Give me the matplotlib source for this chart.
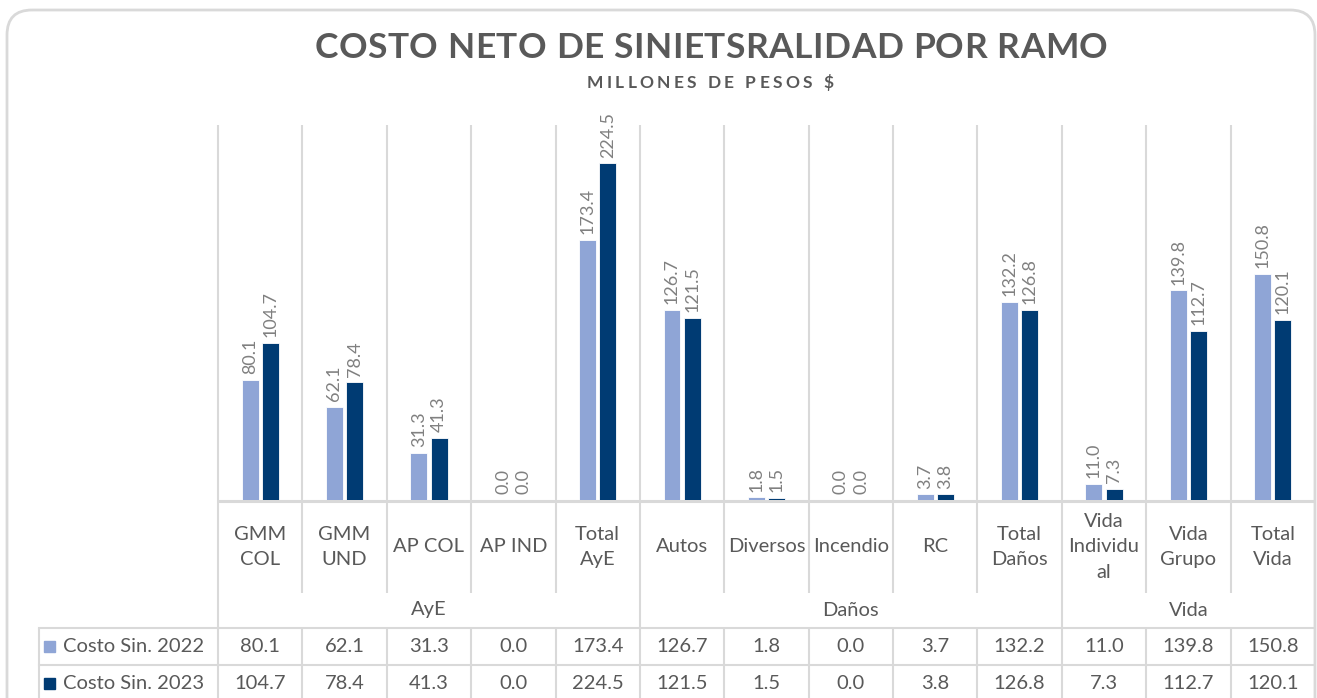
import numpy as np
import matplotlib
matplotlib.use('Agg')
import matplotlib.pyplot as plt
from matplotlib.font_manager import FontProperties
from matplotlib.patches import FancyBboxPatch, Rectangle
from matplotlib.transforms import blended_transform_factory

# ── Data ───────────────────────────────────────────────────────────────────────
CATEGORIES = ['GMM\nCOL', 'GMM\nUND', 'AP COL', 'AP IND', 'Total\nAyE',
              'Autos', 'Diversos', 'Incendio', 'RC', 'Total\nDaños',
              'Vida\nIndividu\nal', 'Vida\nGrupo', 'Total\nVida']
GROUPS      = ['AyE', 'Daños', 'Vida']
GROUP_SIZES = [5, 5, 3]
SERIES      = ['Costo Sin. 2022', 'Costo Sin. 2023']
COSTO_2022  = [80.1, 62.1, 31.3, 0.0, 173.4, 126.7, 1.8, 0.0, 3.7, 132.2, 11.0, 139.8, 150.8]
COSTO_2023  = [104.7, 78.4, 41.3, 0.0, 224.5, 121.5, 1.5, 0.0, 3.8, 126.8, 7.3, 112.7, 120.1]

TITLE    = 'COSTO NETO DE SINIETSRALIDAD POR RAMO'
SUBTITLE = 'MILLONES DE PESOS $'

# ── Style ──────────────────────────────────────────────────────────────────────
C_LIGHT = '#8FA5D6'
C_DARK  = '#003B73'
C_TEXT  = '#595959'
C_LABEL = '#808080'
C_GRID  = '#D9D9D9'
FONT    = 'Lato'
plt.rcParams['font.family'] = [FONT, 'DejaVu Sans']

W, H = 1317, 698
fig = plt.figure(figsize=(W / 100, H / 100), dpi=100)

# overlay in pixel coordinates (y down) for table, lines and titles
ov = fig.add_axes([0, 0, 1, 1], zorder=0)
ov.set_xlim(0, W)
ov.set_ylim(H, 0)
ov.axis('off')
ov.patch.set_alpha(0)

# plot area
ax = fig.add_axes([218 / W, 1 - 500 / H, (1315 - 218) / W, (500 - 125) / H], zorder=1)
ax.set_xlim(-0.5, 12.5)
ax.set_ylim(0, 250)
ax.axis('off')
ax.patch.set_alpha(0)

x = np.arange(len(CATEGORIES))
bw, off = 0.2, 0.12
b1 = ax.bar(x - off, COSTO_2022, width=bw, color=C_LIGHT, edgecolor='white', linewidth=0.6)
b2 = ax.bar(x + off, COSTO_2023, width=bw, color=C_DARK, edgecolor='white', linewidth=0.6)
for bars, vals in [(b1, COSTO_2022), (b2, COSTO_2023)]:
    for rect, v in zip(bars, vals):
        ax.annotate(f'{v:.1f}', (rect.get_x() + rect.get_width() / 2, v),
                    xytext=(0, 4), textcoords='offset points', rotation=90,
                    ha='center', va='bottom', fontsize=13, color=C_LABEL)

# x in category units, y in pixels
bt = blended_transform_factory(ax.transData, ov.transData)
bounds = np.arange(len(CATEGORIES) + 1) - 0.5

# gridlines, axis line, category separators
ov.vlines(bounds, 125, 593, transform=bt, color=C_GRID, lw=1.5)
ov.hlines(501, -0.5, 12.5, transform=bt, color=C_GRID, lw=2.2)
grp_bounds = np.concatenate([[-0.5], np.cumsum(GROUP_SIZES) - 0.5])
ov.vlines(grp_bounds, 593, 628, transform=bt, color=C_GRID, lw=1.5)

# category labels
for i, c in enumerate(CATEGORIES):
    ov.text(i, 547, c, transform=bt, ha='center', va='center', fontsize=14.5,
            color=C_TEXT, linespacing=1.6)

# group labels
start = 0
for g, n in zip(GROUPS, GROUP_SIZES):
    ov.text(start + (n - 1) / 2, 610, g, transform=bt, ha='center', va='center',
            fontsize=14.5, color=C_TEXT)
    start += n

# data table
row_y = [628, 665, 702]
for yy in row_y:
    ov.plot([39, 218], [yy, yy], color=C_GRID, lw=1.5)
    ov.hlines(yy, -0.5, 12.5, transform=bt, color=C_GRID, lw=1.5)
ov.vlines(39, 628, 702, color=C_GRID, lw=1.5)
ov.vlines(bounds, 628, 702, transform=bt, color=C_GRID, lw=1.5)
for r, (name, vals, col) in enumerate([(SERIES[0], COSTO_2022, C_LIGHT),
                                       (SERIES[1], COSTO_2023, C_DARK)]):
    yc = (row_y[r] + row_y[r + 1]) / 2
    ov.add_patch(Rectangle((44, yc - 6), 11, 11, color=col))
    ov.text(63, yc, name, ha='left', va='center', fontsize=14.5, color=C_TEXT)
    for i, v in enumerate(vals):
        ov.text(i, yc, f'{v:.1f}', transform=bt, ha='center', va='center',
                fontsize=14.5, color=C_TEXT)

# chart border
ov.add_patch(FancyBboxPatch((7, 10), 1308, 720, boxstyle='round,pad=0,rounding_size=25',
                            fill=False, edgecolor=C_GRID, lw=2, clip_on=False))

# letter-spaced titles
renderer = fig.canvas.get_renderer()

def _w(s, prop):
    return renderer.get_text_width_height_descent(s, prop, ismath=False)[0]

def tracked_text(s, xc, y, width_px, prop, color):
    bar_w = _w('||', prop)
    ws = [_w('|' + ch + '|', prop) - bar_w for ch in s]
    track = (width_px - sum(ws)) / (len(s) - 1)
    xx = xc - width_px / 2
    for ch, w in zip(s, ws):
        ov.text(xx, y, ch, fontproperties=prop, color=color, ha='left', va='baseline')
        xx += w + track

tracked_text(TITLE, 711, 58, 793,
             FontProperties(family=FONT, weight='bold', size=25.5), C_TEXT)
tracked_text(SUBTITLE, 710, 88, 247,
             FontProperties(family=FONT, weight='bold', size=12.5), C_TEXT)

fig.savefig('out.png', dpi=100)
